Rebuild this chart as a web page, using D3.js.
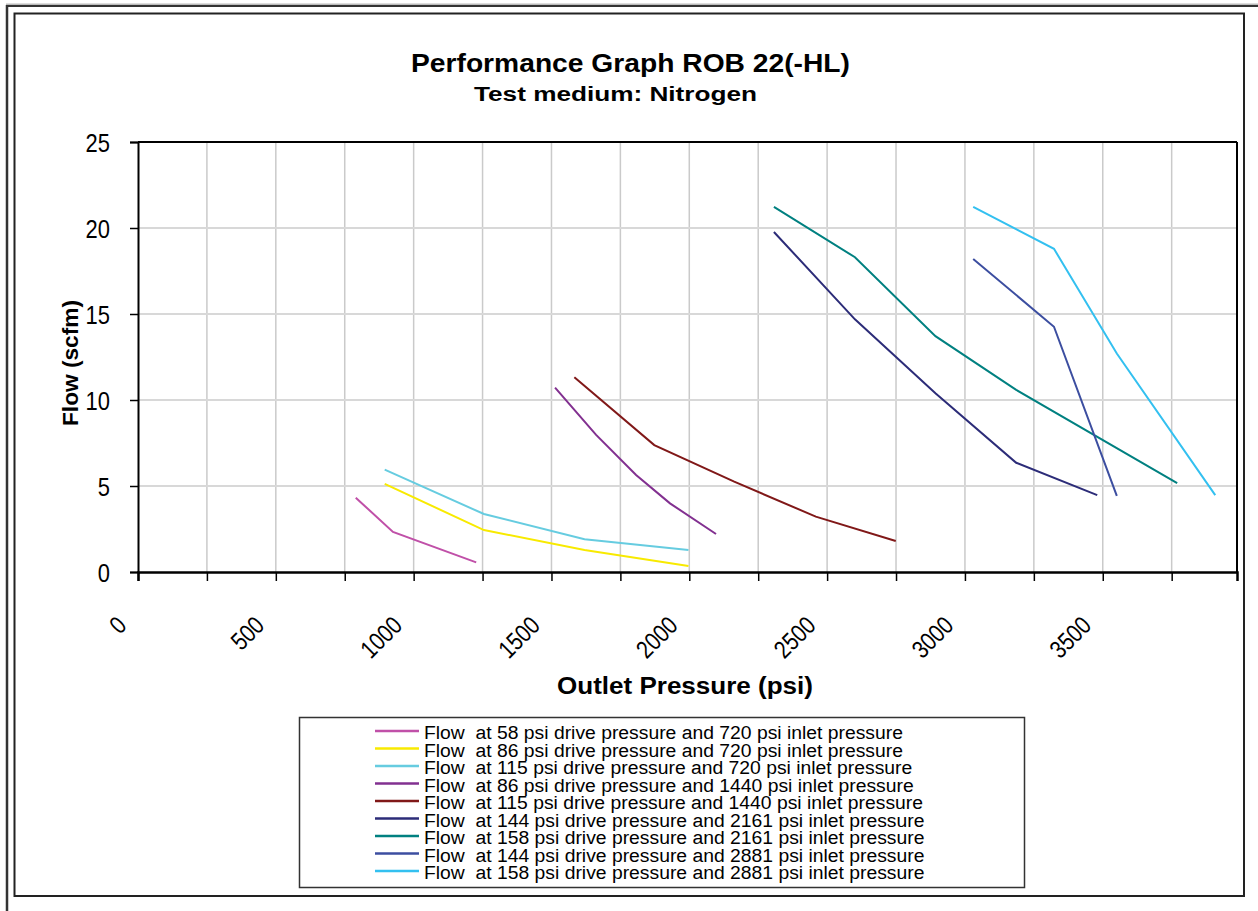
<!DOCTYPE html>
<html><head><meta charset="utf-8">
<script src="https://cdn.jsdelivr.net/npm/d3@7"></script>
<style>
html,body{margin:0;padding:0;background:#fff;}
svg{display:block;}
text{font-family:"Liberation Sans Narrow","Arial Narrow","Liberation Sans",Arial,sans-serif;fill:#000;}
</style></head><body>
<svg id="chart" width="1258" height="911"></svg>
<script>
// ---- data ----
const xGridValues = [0,250,500,750,1000,1250,1500,1750,2000,2250,2500,2750,3000,3250,3500,3750];
const xTickLabels = [0,500,1000,1500,2000,2500,3000,3500];
const yTickValues = [0,5,10,15,20,25];

const flow58_720   = [[790,4.32],[925,2.33],[1227,0.56]];
const flow86_720   = [[895,5.12],[1255,2.44],[1620,1.28],[1997,0.35]];
const flow115_720  = [[895,5.95],[1255,3.37],[1620,1.90],[1997,1.28]];
const flow86_1440  = [[1513,10.72],[1662,7.97],[1807,5.64],[1930,3.99],[2097,2.21]];
const flow115_1440 = [[1583,11.32],[1873,7.38],[2163,5.25],[2459,3.22],[2749,1.80]];
const flow144_2161 = [[2307,19.77],[2601,14.69],[2893,10.39],[3186,6.35],[3480,4.47]];
const flow158_2161 = [[2307,21.23],[2601,18.30],[2893,13.71],[3186,10.59],[3770,5.17]];
const flow144_2881 = [[3030,18.20],[3323,14.26],[3551,4.43]];
const flow158_2881 = [[3030,21.23],[3323,18.79],[3551,12.70],[3908,4.47]];

const seriesData = [flow58_720, flow86_720, flow115_720, flow86_1440, flow115_1440,
                    flow144_2161, flow158_2161, flow144_2881, flow158_2881];
const seriesNames = [
  "Flow  at 58 psi drive pressure and 720 psi inlet pressure",
  "Flow  at 86 psi drive pressure and 720 psi inlet pressure",
  "Flow  at 115 psi drive pressure and 720 psi inlet pressure",
  "Flow  at 86 psi drive pressure and 1440 psi inlet pressure",
  "Flow  at 115 psi drive pressure and 1440 psi inlet pressure",
  "Flow  at 144 psi drive pressure and 2161 psi inlet pressure",
  "Flow  at 158 psi drive pressure and 2161 psi inlet pressure",
  "Flow  at 144 psi drive pressure and 2881 psi inlet pressure",
  "Flow  at 158 psi drive pressure and 2881 psi inlet pressure"
];
const seriesColors = ["#c050a8","#f8ea00","#66cce0","#823090","#801818","#2c2c78","#008080","#3c4ea0","#33c0f0"];

// ---- layout ----
const svg = d3.select("#chart");
const L = 138, R = 1237, T = 142, B = 572;
const x = d3.scaleLinear().domain([0, 3987]).range([L, R]);
const y = d3.scaleLinear().domain([0, 25]).range([B, T]);

// frames
svg.append("line").attr("x1",6).attr("x2",1258).attr("y1",5).attr("y2",5).attr("stroke","#bbb").attr("stroke-width",3);
svg.append("line").attr("x1",6).attr("x2",1258).attr("y1",6).attr("y2",6).attr("stroke","#333").attr("stroke-width",2);
svg.append("line").attr("x1",7).attr("x2",7).attr("y1",5).attr("y2",911).attr("stroke","#333").attr("stroke-width",2.5);
svg.append("rect").attr("x",14.5).attr("y",13.5).attr("width",1229.5).attr("height",882.5)
  .attr("fill","none").attr("stroke","#222").attr("stroke-width",2);

// grid
svg.append("g").selectAll("line").data(xGridValues.slice(1)).join("line")
  .attr("x1",d=>x(d)).attr("x2",d=>x(d)).attr("y1",T).attr("y2",B)
  .attr("stroke","#cacaca").attr("stroke-width",1.5);
svg.append("g").selectAll("line").data(yTickValues.slice(1,-1)).join("line")
  .attr("x1",L).attr("x2",R).attr("y1",d=>y(d)).attr("y2",d=>y(d))
  .attr("stroke","#d8d8d8").attr("stroke-width",2);

// plot border (top/right)
svg.append("line").attr("x1",L).attr("x2",R).attr("y1",T).attr("y2",T).attr("stroke","#000").attr("stroke-width",2);
svg.append("line").attr("x1",R).attr("x2",R).attr("y1",T).attr("y2",B).attr("stroke","#000").attr("stroke-width",2);

// axes
const xAxis = d3.axisBottom(x).tickValues(xGridValues).tickSize(9).tickFormat("");
const gx = svg.append("g").attr("transform",`translate(0,${B})`).call(xAxis);
gx.select(".domain").attr("stroke","#000").attr("stroke-width",2.5);
gx.selectAll(".tick line").attr("stroke","#000").attr("stroke-width",1.5);

const yAxis = d3.axisLeft(y).tickValues(yTickValues).tickSize(8).tickPadding(20).tickFormat(d3.format("d"));
const gy = svg.append("g").attr("transform",`translate(${L},0)`).call(yAxis);
gy.select(".domain").attr("stroke","#000").attr("stroke-width",2);
gy.selectAll(".tick line").attr("stroke","#000").attr("stroke-width",1.5);
gy.selectAll(".tick text").attr("font-size",26).attr("font-family",null).attr("fill","#000").attr("dy","0.36em")
  .attr("textLength",d=>String(d).length*12.2).attr("lengthAdjust","spacingAndGlyphs");

// x tick labels rotated
svg.append("g").selectAll("text").data(xTickLabels).join("text")
  .attr("transform",d=>`translate(${x(d)-10},627) rotate(-45)`)
  .attr("text-anchor","end").attr("font-size",25)
  .attr("textLength",d=>String(d).length*11.6).attr("lengthAdjust","spacingAndGlyphs")
  .text(d=>d);

// lines
const line = d3.line().x(d=>x(d[0])).y(d=>y(d[1]));
svg.append("g").selectAll("path").data(seriesData).join("path")
  .attr("d",line).attr("fill","none")
  .attr("stroke",(d,i)=>seriesColors[i]).attr("stroke-width",2);

// titles
function fitText(sel, w){ sel.attr("textLength",w).attr("lengthAdjust","spacingAndGlyphs"); }
fitText(svg.append("text").attr("x",411).attr("y",72).attr("font-size",26).attr("font-weight","bold")
  .text("Performance Graph ROB 22(-HL)"), 439);
fitText(svg.append("text").attr("x",474).attr("y",101).attr("font-size",20).attr("font-weight","bold")
  .text("Test medium: Nitrogen"), 283);
fitText(svg.append("text").attr("x",557).attr("y",694).attr("font-size",23).attr("font-weight","bold")
  .text("Outlet Pressure (psi)"), 256);
fitText(svg.append("text").attr("transform","translate(78,426) rotate(-90)").attr("font-size",22).attr("font-weight","bold")
  .text("Flow (scfm)"), 126);

// legend
svg.append("rect").attr("x",299.5).attr("y",717.5).attr("width",725).attr("height",170)
  .attr("fill","#fff").attr("stroke","#333").attr("stroke-width",1.5);
const rowY0 = 731, rowStep = 17.5;
const lg = svg.append("g").selectAll("g").data(seriesNames).join("g")
  .attr("transform",(d,i)=>`translate(0,${rowY0+i*rowStep})`);
lg.append("line").attr("x1",375).attr("x2",419).attr("y1",0).attr("y2",0)
  .attr("stroke",(d,i)=>seriesColors[i]).attr("stroke-width",2.5);
const lt = lg.append("text").attr("x",424).attr("y",8).attr("font-size",18)
  .attr("xml:space","preserve").style("white-space","pre").text(d=>d);
const lens = lt.nodes().map(n=>n.getComputedTextLength());
const ratio = 499 / lens[4];
lt.each(function(d,i){ d3.select(this).attr("textLength", lens[i]*ratio).attr("lengthAdjust","spacingAndGlyphs"); });
</script>
</body></html>
